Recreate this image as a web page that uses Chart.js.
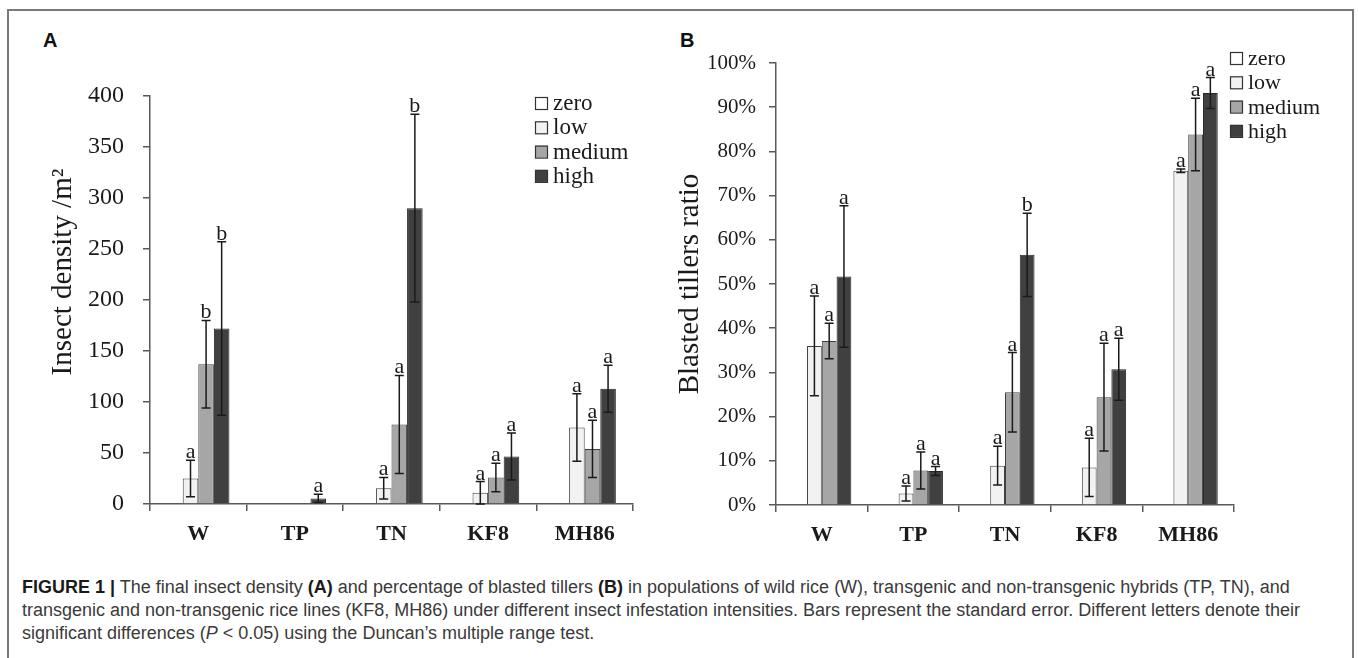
<!DOCTYPE html>
<html>
<head>
<meta charset="utf-8">
<script src="https://cdn.jsdelivr.net/npm/chart.js@4.4.1/dist/chart.umd.min.js"></script>
<style>
  body { margin: 0; background: #fff; width: 1358px; height: 658px; overflow: hidden; position: relative; }
  #frame { position: absolute; left: 7px; top: 9px; width: 1343px; height: 700px; border: 2px solid #7a7a7a; }
  #chartA { position: absolute; left: 0; top: 0; }
  #chartB { position: absolute; left: 660px; top: 0; }
  .panel { position: absolute; font: bold 20px "Liberation Sans", Arial, sans-serif; color: #111; }
  #caption { position: absolute; left: 22px; top: 576px; font: 18px "Liberation Sans Narrow", "Liberation Sans", sans-serif;
             color: #3a3a3a; line-height: 23px; white-space: nowrap; }
  #caption b { color: #1a1a1a; }
</style>
</head>
<body>
<div id="frame"></div>
<div class="panel" style="left:43px; top:29px;">A</div>
<div class="panel" style="left:680px; top:29px;">B</div>
<canvas id="chartA" width="660" height="560"></canvas>
<canvas id="chartB" width="698" height="560"></canvas>
<div id="caption">
  <div><b>FIGURE 1 |</b> The final insect density <b>(A)</b> and percentage of blasted tillers <b>(B)</b> in populations of wild rice (W), transgenic and non-transgenic hybrids (TP, TN), and</div>
  <div>transgenic and non-transgenic rice lines (KF8, MH86) under different insect infestation intensities. Bars represent the standard error. Different letters denote their</div>
  <div>significant differences (<i>P</i> &lt; 0.05) using the Duncan’s multiple range test.</div>
</div>
<script>
// -- Data --
const categories = ['W', 'TP', 'TN', 'KF8', 'MH86'];
const levels = ['zero', 'low', 'medium', 'high'];

// panel A: insect density /m2
const densityTicks = [0, 50, 100, 150, 200, 250, 300, 350, 400];
const densityZero = [0, 0, 0, 0, 0];
const densityLow = [25, 0, 15.5, 11, 75];
const densityMedium = [137, 0, 78, 26, 54];
const densityHigh = [172, 5.5, 290, 46.5, 113];
const densityLowErr = [18, null, 10.5, 11, 33];
const densityMediumErr = [43, null, 48, 14, 28];
const densityHighErr = [85, 4, 92, 23, 23];
const densityLowLetters = ['a', '', 'a', 'a', 'a'];
const densityMediumLetters = ['b', '', 'a', 'a', 'a'];
const densityHighLetters = ['b', 'a', 'b', 'a', 'a'];

// panel B: blasted tillers ratio (%)
const ratioTicks = [0, 10, 20, 30, 40, 50, 60, 70, 80, 90, 100];
const ratioZero = [0, 0, 0, 0, 0];
const ratioLow = [36.0, 2.6, 8.9, 8.5, 75.6];
const ratioMedium = [37.1, 7.8, 25.5, 24.4, 83.8];
const ratioHigh = [51.7, 7.7, 56.6, 30.7, 93.2];
const ratioLowErr = [11.3, 1.7, 4.4, 6.6, 0.4];
const ratioMediumErr = [4, 4.2, 9, 12.2, 8.2];
const ratioHighErr = [16, 1, 9.4, 7, 3.5];
const ratioLowLetters = ['a', 'a', 'a', 'a', 'a'];
const ratioMediumLetters = ['a', 'a', 'a', 'a', 'a'];
const ratioHighLetters = ['a', 'a', 'b', 'a', 'a'];

// -- Styles --
const SERIF = '"Liberation Serif", "Times New Roman", serif';
const fills = ['#ffffff', '#f2f2f2', '#a6a6a6', '#404040'];
const borders = ['#404040', '#404040', '#404040', '#262626'];
const AXIS = '#595959';

// -- Plugins --
const errorBars = {
    id: 'errorBars',
    afterDatasetsDraw(chart, args, opts) {
        const ctx = chart.ctx;
        const yScale = chart.scales.y;
        chart.data.datasets.forEach((ds, d) => {
            if (!ds.errors) return;
            const meta = chart.getDatasetMeta(d);
            meta.data.forEach((bar, i) => {
                const v = ds.data[i];
                const e = ds.errors[i];
                let top = bar.y;
                ctx.save();
                if (e != null) {
                    const yt = yScale.getPixelForValue(v + e);
                    const yb = yScale.getPixelForValue(Math.max(v - e, 0));
                    ctx.strokeStyle = '#1a1a1a';
                    ctx.lineWidth = 1.5;
                    ctx.beginPath();
                    ctx.moveTo(bar.x, yt); ctx.lineTo(bar.x, yb);
                    ctx.moveTo(bar.x - 4.5, yt); ctx.lineTo(bar.x + 4.5, yt);
                    ctx.moveTo(bar.x - 4.5, yb); ctx.lineTo(bar.x + 4.5, yb);
                    ctx.stroke();
                    top = yt;
                }
                const letter = ds.letters ? ds.letters[i] : '';
                if (letter) {
                    ctx.font = opts.font;
                    ctx.fillStyle = '#1a1a1a';
                    ctx.textAlign = 'center';
                    ctx.textBaseline = 'alphabetic';
                    ctx.fillText(letter, bar.x, top - 2);
                }
                ctx.restore();
            });
        });
    }
};

const boxLegend = {
    id: 'boxLegend',
    afterDraw(chart, args, opts) {
        const ctx = chart.ctx;
        ctx.save();
        ctx.font = opts.font;
        ctx.textAlign = 'left';
        ctx.textBaseline = 'alphabetic';
        chart.data.datasets.forEach((ds, i) => {
            const cy = opts.y + i * opts.spacing;
            ctx.fillStyle = ds.backgroundColor;
            ctx.fillRect(opts.x, cy - 6, 12, 12);
            ctx.strokeStyle = '#333';
            ctx.lineWidth = 1.2;
            ctx.strokeRect(opts.x + 0.5, cy - 5.5, 12, 12);
            ctx.fillStyle = '#1a1a1a';
            ctx.fillText(ds.label, opts.x + 18, cy + 7);
        });
        ctx.restore();
    }
};

const yTitle = {
    id: 'yTitle',
    afterDraw(chart, args, opts) {
        const ctx = chart.ctx;
        ctx.save();
        ctx.translate(opts.x, opts.y);
        ctx.rotate(-Math.PI / 2);
        ctx.font = opts.font;
        ctx.fillStyle = '#1a1a1a';
        ctx.textAlign = 'center';
        ctx.textBaseline = 'middle';
        ctx.fillText(opts.text, 0, 0);
        ctx.restore();
    }
};

function makeDatasets(values, errors, letters) {
    return levels.map((lvl, i) => ({
        label: lvl,
        data: values[i],
        errors: errors[i],
        letters: letters[i],
        backgroundColor: fills[i],
        borderColor: borders[i],
        borderWidth: 1,
        borderSkipped: 'bottom',
        categoryPercentage: 0.645,
        barPercentage: 1.0
    }));
}

function makeChart(canvasId, cfg) {
    return new Chart(document.getElementById(canvasId), {
        type: 'bar',
        data: { labels: categories, datasets: cfg.datasets },
        options: {
            responsive: false,
            animation: false,
            layout: { padding: cfg.padding },
            plugins: {
                legend: { display: false },
                tooltip: { enabled: false },
                errorBars: { font: '22px ' + SERIF },
                boxLegend: cfg.legend,
                yTitle: cfg.title
            },
            scales: {
                x: {
                    grid: { offset: true, drawOnChartArea: false, tickLength: 7, color: AXIS, lineWidth: 1.5 },
                    border: { color: AXIS, width: 1.5 },
                    ticks: { color: '#1a1a1a', font: { family: SERIF, size: 22, weight: 'bold' }, padding: cfg.xPad },
                    afterFit: s => { s.height = cfg.xHeight; }
                },
                y: {
                    min: 0,
                    max: cfg.max,
                    grid: { drawOnChartArea: false, tickLength: 7, color: AXIS, lineWidth: 1.5 },
                    border: { color: AXIS, width: 1.5 },
                    ticks: { color: '#1a1a1a', font: { family: SERIF, size: cfg.tickSize }, padding: cfg.yPad,
                             callback: cfg.tickFmt },
                    afterBuildTicks: s => { s.ticks = cfg.ticks.map(v => ({ value: v })); },
                    afterFit: s => { s.width = cfg.yWidth; }
                }
            }
        },
        plugins: [errorBars, boxLegend, yTitle]
    });
}

makeChart('chartA', {
    datasets: makeDatasets(
        [densityZero, densityLow, densityMedium, densityHigh],
        [null, densityLowErr, densityMediumErr, densityHighErr],
        [null, densityLowLetters, densityMediumLetters, densityHighLetters]),
    padding: { top: 96, right: 27, left: 0, bottom: 0 },
    max: 400,
    ticks: densityTicks,
    tickSize: 24,
    tickFmt: v => v,
    yPad: 19,
    xPad: 10,
    yWidth: 150,
    xHeight: 56,
    legend: { x: 535, y: 103, spacing: 24.3, font: '23px ' + SERIF },
    title: { x: 63, y: 272, text: 'Insect density /m²', font: '29px ' + SERIF }
});

makeChart('chartB', {
    datasets: makeDatasets(
        [ratioZero, ratioLow, ratioMedium, ratioHigh],
        [null, ratioLowErr, ratioMediumErr, ratioHighErr],
        [null, ratioLowLetters, ratioMediumLetters, ratioHighLetters]),
    padding: { top: 63, right: 124, left: 0, bottom: 0 },
    max: 100,
    ticks: ratioTicks,
    tickSize: 21,
    tickFmt: v => v + '%',
    yPad: 13,
    xPad: 10,
    yWidth: 116,
    xHeight: 55,
    legend: { x: 570, y: 58, spacing: 24.3, font: '22px ' + SERIF },
    title: { x: 30, y: 284, text: 'Blasted tillers ratio', font: '29px ' + SERIF }
});
</script>
</body>
</html>
